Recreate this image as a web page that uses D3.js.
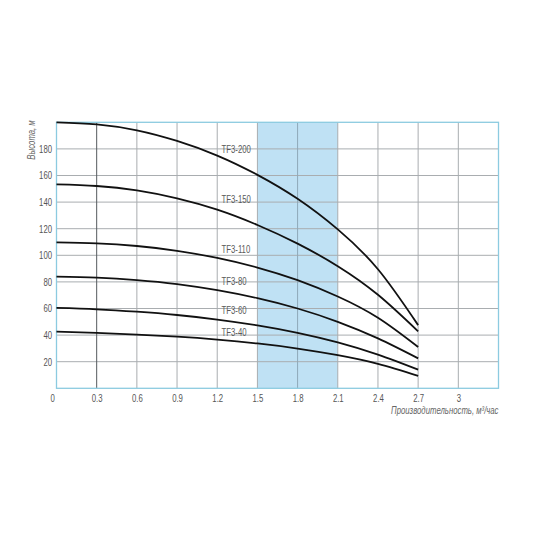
<!DOCTYPE html>
<html><head><meta charset="utf-8">
<script src="https://cdn.jsdelivr.net/npm/d3@7"></script>
<style>
html,body{margin:0;padding:0;background:#fff;}
svg{display:block;}
text{font-family:"Liberation Sans",Arial,sans-serif;}
</style></head>
<body>
<script>
const flow = [0, 0.3, 0.6, 0.9, 1.2, 1.5, 1.8, 2.1, 2.4, 2.7];
const seriesNames = ["TF3-200", "TF3-150", "TF3-110", "TF3-80", "TF3-60", "TF3-40"];
const tf3_200 = [200, 198.5, 194, 186, 175, 160.5, 142.5, 119.5, 89.5, 47.5];
const tf3_150 = [153.3, 152.1, 148.8, 142.8, 134.3, 122.8, 108.8, 91.8, 70.3, 42.8];
const tf3_110 = [109.7, 109, 107, 103.4, 98, 90.8, 81.3, 69, 53, 31];
const tf3_80 = [84, 83.2, 81.4, 78.4, 73.8, 67.8, 60, 50, 37.5, 22.5];
const tf3_60 = [60.4, 59.4, 57.6, 55.1, 51.7, 47.3, 41.7, 34.5, 25.3, 14];
const tf3_40 = [42.6, 41.6, 40.4, 38.8, 36.6, 33.7, 29.9, 24.9, 18.4, 9.4];
const seriesValues = [tf3_200, tf3_150, tf3_110, tf3_80, tf3_60, tf3_40];
const labelValues = [179.4, 141.8, 104.7, 80.3, 59, 41.9];
const xTicks = [0, 0.3, 0.6, 0.9, 1.2, 1.5, 1.8, 2.1, 2.4, 2.7, 3];
const xTickLabels = ["0", "0.3", "0.6", "0.9", "1.2", "1.5", "1.8", "2.1", "2.4", "2.7", "3"];
const yTicks = [20, 40, 60, 80, 100, 120, 140, 160, 180];
const band = [1.5, 2.1];
const xTitle = "Производительность, м³/час";
const yTitle = "Высота, м";

const W = 540, H = 540;
const SX = 0.74; // horizontal condensing of the text face
const svg = d3.select("body").append("svg").attr("width", W).attr("height", H);
const x = d3.scaleLinear().domain([0, 3.3]).range([56.5, 498.5]);
const y = d3.scaleLinear().domain([0, 200]).range([388.3, 122.3]);

// band
svg.append("rect")
  .attr("x", x(band[0])).attr("y", y(200))
  .attr("width", x(band[1]) - x(band[0])).attr("height", y(0) - y(200))
  .attr("fill", "#bfe1f4");

// horizontal grid
svg.append("g").selectAll("line").data(yTicks).join("line")
  .attr("x1", x(0)).attr("x2", x(3.3))
  .attr("y1", d => y(d)).attr("y2", d => y(d))
  .attr("stroke", "#a9adb0").attr("stroke-width", 1);

// vertical grid
svg.append("g").selectAll("line").data(xTicks.slice(1)).join("line")
  .attr("x1", d => x(d)).attr("x2", d => x(d))
  .attr("y1", y(0)).attr("y2", y(200))
  .attr("stroke", d => d === 0.3 ? "#555a5e" : (d > band[0] && d < band[1] ? "#8fa9b8" : "#a9adb0"))
  .attr("stroke-width", 1);

// frame
svg.append("rect")
  .attr("x", x(0)).attr("y", y(200))
  .attr("width", x(3.3) - x(0)).attr("height", y(0) - y(200))
  .attr("fill", "none").attr("stroke", "#8ccbe0").attr("stroke-width", 1.3);

// axes
const xAxis = d3.axisBottom(x).tickValues(xTicks).tickSize(0).tickPadding(6)
  .tickFormat((d, i) => xTickLabels[i]);
const gx = svg.append("g").attr("transform", `translate(0,${y(0)})`).call(xAxis);
gx.select(".domain").remove();
gx.selectAll("text").attr("font-size", 10.5).attr("fill", "#555")
  .style("font-family", '"Liberation Sans",Arial,sans-serif')
  .attr("transform", `scale(${SX},1)`);
gx.selectAll(".tick").filter(d => d === 0).select("text").attr("dx", -6);

const yAxis = d3.axisLeft(y).tickValues(yTicks).tickSize(0).tickPadding(6);
const gy = svg.append("g").attr("transform", `translate(${x(0)},0)`).call(yAxis);
gy.select(".domain").remove();
gy.selectAll("text").attr("font-size", 10.5).attr("fill", "#555")
  .style("font-family", '"Liberation Sans",Arial,sans-serif')
  .attr("transform", `scale(${SX},1)`);

// curves
const line = d3.line().x((d, i) => x(flow[i])).y(d => y(d)).curve(d3.curveNatural);
svg.append("g").selectAll("path").data(seriesValues).join("path")
  .attr("d", d => line(d))
  .attr("fill", "none").attr("stroke", "#111").attr("stroke-width", 1.8);

// series labels
svg.append("g").selectAll("g").data(seriesNames).join("g")
  .attr("transform", (d, i) => `translate(${x(1.232)},${y(labelValues[i])})`)
  .append("text")
  .attr("transform", `scale(${SX},1)`)
  .attr("dy", "0.35em")
  .attr("font-size", 10.5).attr("fill", "#5a5a5a")
  .text(d => d);

// titles
svg.append("g").attr("transform", `translate(31,140) rotate(-90)`)
  .append("text")
  .attr("transform", `scale(${SX},1)`)
  .attr("text-anchor", "middle").attr("dy", "0.35em")
  .attr("font-size", 10.5).attr("font-style", "italic").attr("fill", "#666")
  .text(yTitle);
svg.append("g").attr("transform", `translate(${x(3.3)},414)`)
  .append("text")
  .attr("transform", `scale(${SX},1)`)
  .attr("text-anchor", "end")
  .attr("font-size", 10.5).attr("font-style", "italic").attr("fill", "#666")
  .text(xTitle);
</script>
</body></html>
